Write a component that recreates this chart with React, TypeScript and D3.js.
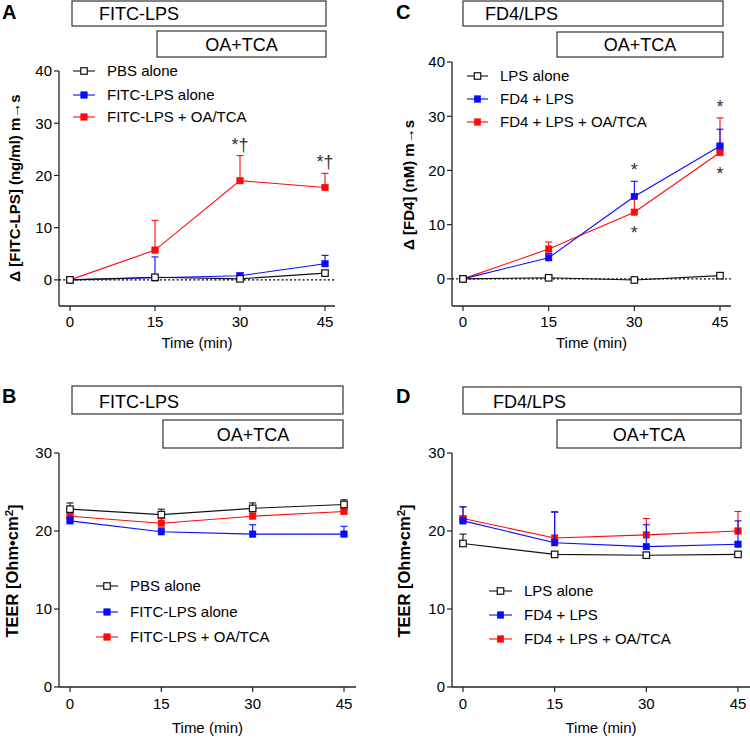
import React from "react";
import * as d3 from "d3";

const FONT = "'Liberation Sans', Arial, Helvetica, sans-serif";
const BLUE = "#0a0aff";
const RED = "#ff0a0a";
const BLACK = "#111111";

const times = [0, 15, 30, 45];
const xTickLabels = ["0", "15", "30", "45"];

// Panel A: Δ [FITC-LPS]
const aNames = ["PBS alone", "FITC-LPS alone", "FITC-LPS + OA/TCA"];
const aPbs = [0, 0.5, 0.2, 1.3];
const aPbsErr = [0.1, 0.4, 0.2, 0.3];
const aLps = [0, 0.4, 0.8, 3.1];
const aLpsErr = [0, 4.0, 0.5, 1.6];
const aOa = [0, 5.7, 19.0, 17.7];
const aOaErr = [0, 5.7, 4.8, 2.7];
const aYTicks = [0, 10, 20, 30, 40];
const aAnnTimes = [30, 45];
const aAnnTexts = ["*†", "*†"];
const aAnnSeries = [2, 2];
const aAnnSide = ["above", "above"];

// Panel C: Δ [FD4]
const cNames = ["LPS alone", "FD4 + LPS", "FD4 + LPS + OA/TCA"];
const cLps = [0, 0.2, -0.2, 0.6];
const cLpsErr = [0, 0.4, 0.1, 0.2];
const cFd4 = [0, 3.9, 15.2, 24.5];
const cFd4Err = [0, 0.8, 2.8, 3.1];
const cOa = [0, 5.5, 12.3, 23.3];
const cOaErr = [0, 1.3, 2.9, 6.4];
const cYTicks = [0, 10, 20, 30, 40];
const cAnnTimes = [30, 30, 45, 45];
const cAnnTexts = ["*", "*", "*", "*"];
const cAnnSeries = [1, 2, 2, 2];
const cAnnSide = ["above", "below", "above", "below"];

// Panel B: TEER
const bNames = ["PBS alone", "FITC-LPS alone", "FITC-LPS + OA/TCA"];
const bPbs = [22.8, 22.1, 22.9, 23.4];
const bPbsErr = [0.8, 0.7, 0.7, 0.6];
const bLps = [21.3, 19.9, 19.6, 19.6];
const bLpsErr = [0.5, 0.5, 1.2, 1.0];
const bOa = [21.9, 21.0, 21.9, 22.5];
const bOaErr = [0.5, 0.6, 0.4, 0.3];
const bYTicks = [0, 10, 20, 30];

// Panel D: TEER
const dNames = ["LPS alone", "FD4 + LPS", "FD4 + LPS + OA/TCA"];
const dLps = [18.4, 17.0, 16.9, 17.0];
const dLpsErr = [1.2, 0.3, 0.3, 0.2];
const dFd4 = [21.3, 18.5, 18.0, 18.3];
const dFd4Err = [1.8, 3.9, 2.8, 3.0];
const dOa = [21.6, 19.1, 19.5, 20.0];
const dOaErr = [1.5, 3.4, 2.1, 2.5];
const dYTicks = [0, 10, 20, 30];

type Series = { name: string; color: string; open: boolean; values: number[]; errors: number[] };

function makeSeries(names: string[], vals: number[][], errs: number[][]): Series[] {
  const colors = [BLACK, BLUE, RED];
  return names.map((n, i) => ({ name: n, color: colors[i], open: i === 0, values: vals[i], errors: errs[i] }));
}

type PanelProps = {
  letter: string;
  letterX: number;
  letterY: number;
  box1: [number, number, number, number];
  box1Text: string;
  box1TextX: number;
  box1Base: number;
  box2: [number, number, number, number];
  box2Text: string;
  box2Base: number;
  xr: [number, number];
  axisX: [number, number];
  yDomain: [number, number];
  yRange: [number, number];
  yTicks: number[];
  dotted: boolean;
  series: Series[];
  legendX: [number, number];
  legendTextX: number;
  legendYs: number[];
  yTitle: React.ReactNode;
  yTitleX: number;
  yTitleY: number;
  yTitleSize: number;
  tickBase: number;
  xTitleBase: number;
  annTimes?: number[];
  annTexts?: string[];
  annSeries?: number[];
  annSide?: string[];
};

function Panel(p: PanelProps) {
  const x = d3.scaleLinear().domain([0, 45]).range(p.xr);
  const y = d3.scaleLinear().domain(p.yDomain).range(p.yRange);
  const y0 = p.yRange[0];
  const axisLeft = p.axisX[0];
  const line = d3
    .line<number>()
    .x((_, i) => x(times[i]))
    .y((v) => y(v));
  const drawOrder = [2, 1, 0];
  const ms = 6.5;
  return (
    <g fontFamily={FONT}>
      <text x={p.letterX} y={p.letterY} fontSize={20} fontWeight="bold" fill="#000">
        {p.letter}
      </text>
      <rect x={p.box1[0]} y={p.box1[1]} width={p.box1[2] - p.box1[0]} height={p.box1[3] - p.box1[1]} fill="#fff" stroke="#333" strokeWidth={1.2} />
      <text x={p.box1TextX} y={p.box1Base} fontSize={18} fill="#000">
        {p.box1Text}
      </text>
      <rect x={p.box2[0]} y={p.box2[1]} width={p.box2[2] - p.box2[0]} height={p.box2[3] - p.box2[1]} fill="#fff" stroke="#333" strokeWidth={1.2} />
      <text x={(p.box2[0] + p.box2[2]) / 2} y={p.box2Base} fontSize={18} fill="#000" textAnchor="middle">
        {p.box2Text}
      </text>

      {/* axes */}
      <line x1={axisLeft} x2={axisLeft} y1={y0} y2={p.yRange[1]} stroke="#222" strokeWidth={1.3} />
      <line x1={axisLeft} x2={p.axisX[1]} y1={y0} y2={y0} stroke="#222" strokeWidth={1.3} />
      {p.yTicks.map((t) => (
        <g key={"yt" + t}>
          <line x1={axisLeft - 5} x2={axisLeft} y1={y(t)} y2={y(t)} stroke="#222" strokeWidth={1.2} />
          <text x={axisLeft - 7} y={y(t)} dy="0.36em" fontSize={15} textAnchor="end" fill="#000">
            {t}
          </text>
        </g>
      ))}
      {times.map((t, i) => (
        <g key={"xt" + t}>
          <line x1={x(t)} x2={x(t)} y1={y0} y2={y0 + 5} stroke="#222" strokeWidth={1.2} />
          <text x={x(t)} y={p.tickBase} fontSize={15} textAnchor="middle" fill="#000">
            {xTickLabels[i]}
          </text>
        </g>
      ))}
      <text x={(axisLeft + p.axisX[1]) / 2} y={p.xTitleBase} fontSize={15} textAnchor="middle" fill="#000">
        Time (min)
      </text>
      <text
        transform={`translate(${p.yTitleX},${p.yTitleY}) rotate(-90)`}
        dy="0.36em"
        fontSize={p.yTitleSize}
        fontWeight="bold"
        textAnchor="middle"
        fill="#000"
      >
        {p.yTitle}
      </text>
      {p.dotted && (
        <line x1={axisLeft} x2={p.axisX[1]} y1={y(0)} y2={y(0)} stroke="#000" strokeWidth={1.4} strokeDasharray="2,2.2" />
      )}

      {/* series */}
      {drawOrder.map((si) => {
        const s = p.series[si];
        return (
          <g key={"s" + si}>
            <path d={line(s.values) || ""} fill="none" stroke={s.color} strokeWidth={1.1} />
            {s.values.map((v, i) =>
              s.errors[i] > 0 ? (
                <g key={"e" + i} stroke={s.color} strokeWidth={1.1}>
                  <line x1={x(times[i])} x2={x(times[i])} y1={y(v)} y2={y(v + s.errors[i])} />
                  <line x1={x(times[i]) - 3.5} x2={x(times[i]) + 3.5} y1={y(v + s.errors[i])} y2={y(v + s.errors[i])} />
                </g>
              ) : null
            )}
            {s.values.map((v, i) => (
              <rect
                key={"m" + i}
                x={x(times[i]) - ms / 2}
                y={y(v) - ms / 2}
                width={ms}
                height={ms}
                fill={s.open ? "#fff" : s.color}
                stroke={s.open ? "#111" : s.color}
                strokeWidth={s.open ? 1.2 : 0.5}
              />
            ))}
          </g>
        );
      })}

      {/* annotations */}
      {(p.annTimes || []).map((t, k) => {
        const s = p.series[p.annSeries![k]];
        const i = times.indexOf(t);
        const v = s.values[i];
        const cy = p.annSide![k] === "above" ? y(v + s.errors[i]) - 15 : y(v) + 17;
        return (
          <text key={"a" + k} x={x(t)} y={cy + 10} fontSize={18} textAnchor="middle" fill="#333">
            {p.annTexts![k]}
          </text>
        );
      })}

      {/* legend */}
      {p.series.map((s, i) => (
        <g key={"l" + i}>
          <line x1={p.legendX[0]} x2={p.legendX[1]} y1={p.legendYs[i]} y2={p.legendYs[i]} stroke={s.color} strokeWidth={1.1} />
          <rect
            x={(p.legendX[0] + p.legendX[1]) / 2 - ms / 2}
            y={p.legendYs[i] - ms / 2}
            width={ms}
            height={ms}
            fill={s.open ? "#fff" : s.color}
            stroke={s.open ? "#111" : s.color}
            strokeWidth={s.open ? 1.2 : 0.5}
          />
          <text x={p.legendTextX} y={p.legendYs[i]} dy="0.36em" fontSize={15} fill="#000">
            {s.name}
          </text>
        </g>
      ))}
    </g>
  );
}

export default function App() {
  const sA = makeSeries(aNames, [aPbs, aLps, aOa], [aPbsErr, aLpsErr, aOaErr]);
  const sC = makeSeries(cNames, [cLps, cFd4, cOa], [cLpsErr, cFd4Err, cOaErr]);
  const sB = makeSeries(bNames, [bPbs, bLps, bOa], [bPbsErr, bLpsErr, bOaErr]);
  const sD = makeSeries(dNames, [dLps, dFd4, dOa], [dLpsErr, dFd4Err, dOaErr]);
  const teer = (
    <>
      TEER [Ohm•cm<tspan fontSize="0.7em" dy="-0.4em">2</tspan>
      <tspan dy="0.4em">]</tspan>
    </>
  );
  return (
    <svg width={750} height={738} style={{ position: "absolute", left: 0, top: 0, background: "#fff" }}>
      <rect x={0} y={0} width={750} height={738} fill="#fff" />
      <Panel
        letter="A" letterX={2} letterY={19}
        box1={[72, 1, 326, 26]} box1Text="FITC-LPS" box1TextX={99} box1Base={20}
        box2={[157, 31, 326, 57]} box2Text="OA+TCA" box2Base={51}
        xr={[70, 325]} axisX={[59, 335]}
        yDomain={[-5, 40]} yRange={[306, 71]} yTicks={aYTicks} dotted={true}
        series={sA} legendX={[73, 95]} legendTextX={107} legendYs={[71, 95, 117]}
        yTitle="Δ [FITC-LPS] (ng/ml) m→s" yTitleX={15} yTitleY={188} yTitleSize={15}
        tickBase={327} xTitleBase={348}
        annTimes={aAnnTimes} annTexts={aAnnTexts} annSeries={aAnnSeries} annSide={aAnnSide}
      />
      <Panel
        letter="C" letterX={396} letterY={19}
        box1={[463, 1, 723, 26]} box1Text="FD4/LPS" box1TextX={485} box1Base={20}
        box2={[557, 32, 723, 57]} box2Text="OA+TCA" box2Base={51}
        xr={[463, 720]} axisX={[452, 731]}
        yDomain={[-5, 40]} yRange={[306, 62]} yTicks={cYTicks} dotted={true}
        series={sC} legendX={[467, 488]} legendTextX={500} legendYs={[76, 99, 122]}
        yTitle="Δ [FD4] (nM) m→s" yTitleX={409} yTitleY={185} yTitleSize={15}
        tickBase={327} xTitleBase={348}
        annTimes={cAnnTimes} annTexts={cAnnTexts} annSeries={cAnnSeries} annSide={cAnnSide}
      />
      <Panel
        letter="B" letterX={2} letterY={403}
        box1={[72, 386, 343, 414]} box1Text="FITC-LPS" box1TextX={99} box1Base={408}
        box2={[163, 420, 343, 448]} box2Text="OA+TCA" box2Base={441}
        xr={[70, 344]} axisX={[59, 356]}
        yDomain={[0, 30]} yRange={[687, 453]} yTicks={bYTicks} dotted={false}
        series={sB} legendX={[96, 118]} legendTextX={130} legendYs={[586, 612, 637]}
        yTitle={teer} yTitleX={12} yTitleY={571} yTitleSize={16.5}
        tickBase={709} xTitleBase={733}
      />
      <Panel
        letter="D" letterX={396} letterY={403}
        box1={[463, 387, 741, 414]} box1Text="FD4/LPS" box1TextX={493} box1Base={408}
        box2={[557, 420, 741, 448]} box2Text="OA+TCA" box2Base={441}
        xr={[463, 738]} axisX={[452, 750]}
        yDomain={[0, 30]} yRange={[687, 453]} yTicks={dYTicks} dotted={false}
        series={sD} legendX={[489, 512]} legendTextX={524} legendYs={[591, 615, 639]}
        yTitle={teer} yTitleX={404} yTitleY={571} yTitleSize={16.5}
        tickBase={709} xTitleBase={733}
      />
    </svg>
  );
}
